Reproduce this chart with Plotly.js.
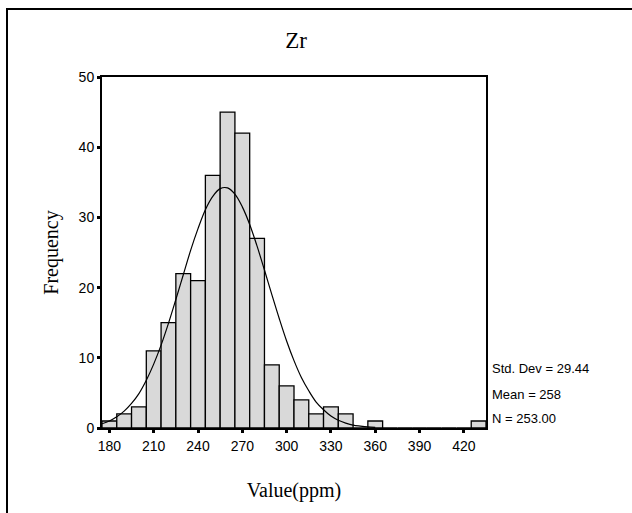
<!DOCTYPE html>
<html>
<head>
<meta charset="utf-8">
<script src="https://cdn.plot.ly/plotly-3.0.1.min.js"></script>
<style>html,body{margin:0;padding:0;background:#fff;}#chart{width:632px;height:513px;}</style>
</head>
<body>
<div id="chart"></div>
<script>
// Histogram bin centres (ppm), bin width 10
const binCenters = [180,190,200,210,220,230,240,250,260,270,280,290,300,310,320,330,340,350,360,370,380,390,400,410,420,430];
const frequencies = [1,2,3,11,15,22,21,36,45,42,27,9,6,4,2,3,2,0,1,0,0,0,0,0,0,1];
// Fitted normal curve
const curveX = [175,180,185,190,195,200,205,210,215,220,225,230,235,240,245,250,255,260,265,270,275,280,285,290,295,300,305,310,315,320,325,330,335,340,345,350,355,360];
const curveY = [0.6,1.0,1.6,2.4,3.5,4.9,6.8,9.1,11.8,14.9,18.3,21.8,25.3,28.4,31.1,33.0,34.1,34.2,33.3,31.5,29.0,25.9,22.5,19.0,15.6,12.4,9.6,7.2,5.3,3.7,2.6,1.7,1.1,0.7,0.4,0.26,0.15,0.08];
const xTicks = [180,210,240,270,300,330,360,390,420];
const yTicks = [0,10,20,30,40,50];
const statsLines = ["Std. Dev = 29.44","Mean = 258","N = 253.00"];

const L = 102, R = 486, T = 77, B = 428, W = 632, H = 513;
const px = v => (v - L) / (R - L);
const py = v => (B - v) / (B - T);

const traces = [
  {type:'bar', x:binCenters, y:frequencies, width:10,
   marker:{color:'#d9d9d9', line:{color:'#000', width:1.3}}, hoverinfo:'x+y'},
  {type:'scatter', mode:'lines', x:curveX, y:curveY,
   line:{color:'#000', width:1.2, shape:'spline'}, hoverinfo:'skip'}
];

const statsY = [368.5, 394, 418.5];
const annotations = statsLines.map((t,i)=>({
  text:t, xref:'paper', yref:'paper', x:px(490), y:py(statsY[i]),
  xanchor:'left', yanchor:'middle', showarrow:false,
  font:{family:'Liberation Sans, Arial, sans-serif', size:13, color:'#000'}
}));

const layout = {
  width:W, height:H,
  margin:{l:L, r:W-R, t:T, b:H-B, pad:0},
  paper_bgcolor:'#fff', plot_bgcolor:'#fff',
  showlegend:false, bargap:0,
  title:{text:'Zr', x:px(296), xref:'paper', y:1-40/H, yref:'container', yanchor:'middle', xanchor:'center',
    font:{family:'Liberation Serif, Times New Roman, serif', size:23, color:'#000'}},
  xaxis:{range:[175,435], tickvals:xTicks, ticks:'outside', ticklen:3, tickwidth:3, tickcolor:'#000',
    showline:true, linecolor:'#000', linewidth:2, mirror:true, showgrid:false, zeroline:false,
    ticklabelstandoff:1,
    tickfont:{family:'Liberation Sans, Arial, sans-serif', size:14, color:'#000'},
    title:{text:'Value(ppm)', standoff:30, font:{family:'Liberation Serif, Times New Roman, serif', size:20, color:'#000'}},
    automargin:false},
  yaxis:{range:[0,50], tickvals:yTicks, ticks:'outside', ticklen:3, tickwidth:3, tickcolor:'#000',
    showline:true, linecolor:'#000', linewidth:2, mirror:true, showgrid:false, zeroline:false,
    tickfont:{family:'Liberation Sans, Arial, sans-serif', size:14, color:'#000'},
    title:{text:'Frequency', standoff:15, font:{family:'Liberation Serif, Times New Roman, serif', size:20, color:'#000'}},
    automargin:false},
  annotations:annotations,
  shapes:[
    {type:'line', xref:'paper', yref:'paper', x0:px(6), x1:px(640), y0:py(9), y1:py(9), line:{color:'#000', width:2}},
    {type:'line', xref:'paper', yref:'paper', x0:px(7), x1:px(7), y0:py(8), y1:py(520), line:{color:'#000', width:2}}
  ]
};

Plotly.newPlot('chart', traces, layout, {displayModeBar:false, staticPlot:true});
</script>
</body>
</html>
